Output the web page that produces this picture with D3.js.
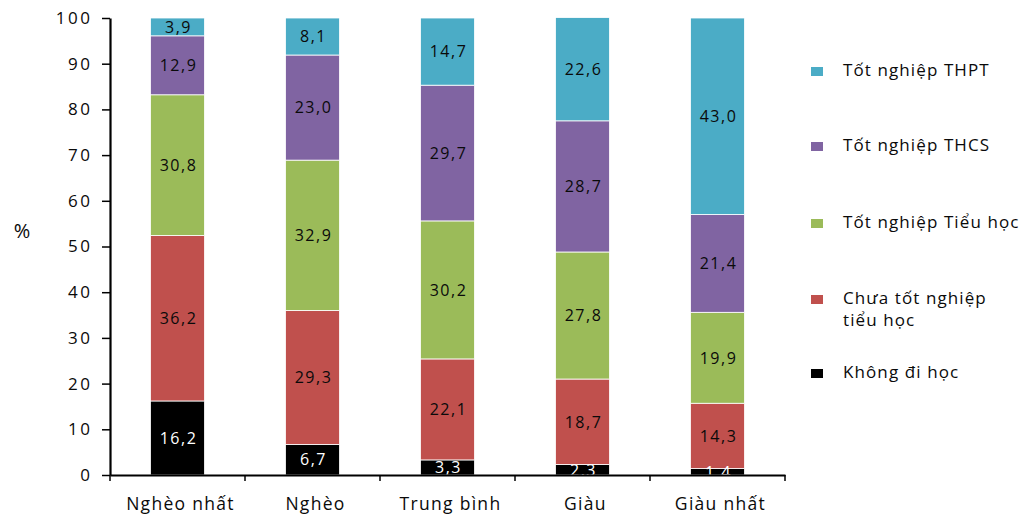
<!DOCTYPE html>
<html>
<head>
<meta charset="utf-8">
<script src="https://cdn.jsdelivr.net/npm/d3@7"></script>
<style>
  html, body { margin: 0; padding: 0; background: #fff; }
  svg text { font-family: "Open Sans", "Noto Sans", sans-serif; fill: #0a0a0a; }
</style>
</head>
<body>
<svg id="chart" width="1029" height="517"></svg>
<script>
// Quintile groups along the x axis
const categories = ["Nghèo nhất", "Nghèo", "Trung bình", "Giàu", "Giàu nhất"];

// Education levels, stacked bottom to top
const seriesNames = [
  "Không đi học",
  "Chưa tốt nghiệp tiểu học",
  "Tốt nghiệp Tiểu học",
  "Tốt nghiệp THCS",
  "Tốt nghiệp THPT"
];
const khongDiHoc    = [16.2, 6.7, 3.3, 2.3, 1.4];
const chuaTotNghiep = [36.2, 29.3, 22.1, 18.7, 14.3];
const tieuHoc       = [30.8, 32.9, 30.2, 27.8, 19.9];
const thcs          = [12.9, 23.0, 29.7, 28.7, 21.4];
const thpt          = [3.9, 8.1, 14.7, 22.6, 43.0];
const yTicks = [0, 10, 20, 30, 40, 50, 60, 70, 80, 90, 100];

const seriesValues = [khongDiHoc, chuaTotNghiep, tieuHoc, thcs, thpt];
const colors = ["#000000", "#C0504D", "#9BBB59", "#8064A2", "#4BACC6"];
const labelColors = ["#ffffff", "#0a0a0a", "#0a0a0a", "#0a0a0a", "#0a0a0a"];

const rows = categories.map((c, i) => {
  const r = { cat: c };
  seriesNames.forEach((s, j) => { r[s] = seriesValues[j][i]; });
  return r;
});
const stacked = d3.stack().keys(seriesNames)(rows);

const svg = d3.select("#chart");
const plotLeft = 110, plotRight = 785, plotTop = 18, plotBottom = 475;

const x = d3.scaleBand().domain(categories).range([plotLeft, plotRight])
  .paddingInner(0.6).paddingOuter(0.3);
const y = d3.scaleLinear().domain([0, 100]).range([plotBottom, plotTop]);

// Bars
const layers = svg.append("g").selectAll("g").data(stacked).join("g")
  .attr("fill", (d, i) => colors[i]);
layers.selectAll("rect").data(d => d).join("rect")
  .attr("x", d => x(d.data.cat))
  .attr("width", x.bandwidth())
  .attr("y", d => y(d[1]))
  .attr("height", d => y(d[0]) - y(d[1]))
  .attr("stroke", "#fff")
  .attr("stroke-width", 0.8);

// Value labels (comma decimal separator)
const fmt = v => v.toFixed(1).replace(".", ",");
stacked.forEach((layer, i) => {
  svg.append("g").selectAll("text").data(layer).join("text")
    .attr("x", d => x(d.data.cat) + x.bandwidth() / 2 + 1)
    .attr("y", d => y((d[0] + d[1]) / 2))
    .attr("dy", "0.36em")
    .attr("text-anchor", "middle")
    .style("font-size", "16px")
    .style("letter-spacing", "1.5px")
    .style("fill", labelColors[i])
    .text(d => fmt(d[1] - d[0]));
});

// Y axis
const yAxis = svg.append("g").attr("transform", `translate(${plotLeft},0)`)
  .call(d3.axisLeft(y).tickValues(yTicks).tickSize(8).tickPadding(9.5).tickSizeOuter(0));
yAxis.select(".domain").attr("stroke", "#000").attr("stroke-width", 2.2);
yAxis.selectAll(".tick line").attr("stroke", "#000").attr("stroke-width", 1.5);
yAxis.selectAll(".tick text").style("font-size", "17px").style("letter-spacing", "2.5px").style("fill", "#0a0a0a");

// X axis: labels centred under bars, ticks at group boundaries
const xAxis = svg.append("g").attr("transform", `translate(0,${plotBottom})`)
  .call(d3.axisBottom(x).tickSize(0).tickPadding(23).tickSizeOuter(0));
xAxis.select(".domain").attr("stroke", "#000").attr("stroke-width", 2.2);
xAxis.selectAll(".tick text")
  .attr("dx", 3)
  .style("font-size", "17.5px").style("letter-spacing", "1.3px").style("fill", "#0a0a0a");
const boundaries = [plotLeft].concat(categories.map(c => x(c) + x.bandwidth() + x.step() * x.paddingInner() / 2));
boundaries[boundaries.length - 1] = plotRight;
svg.append("g").selectAll("line").data(boundaries).join("line")
  .attr("x1", d => d).attr("x2", d => d)
  .attr("y1", plotBottom).attr("y2", plotBottom + 6)
  .attr("stroke", "#000").attr("stroke-width", 1.5);

// Y axis title
svg.append("text").attr("x", 22).attr("y", 231).attr("dy", "0.36em")
  .attr("text-anchor", "middle").style("font-size", "20px").text("%");

// Legend (top to bottom: THPT ... Không đi học)
const legendItems = [
  { i: 4, y: 70, lines: ["Tốt nghiệp THPT"] },
  { i: 3, y: 145, lines: ["Tốt nghiệp THCS"] },
  { i: 2, y: 222, lines: ["Tốt nghiệp Tiểu học"] },
  { i: 1, y: 298, lines: ["Chưa tốt nghiệp", "tiểu học"] },
  { i: 0, y: 372, lines: ["Không đi học"] }
];
const lg = svg.append("g");
legendItems.forEach(it => {
  lg.append("rect").attr("x", 811).attr("y", it.y - 3).attr("width", 12).attr("height", 9)
    .attr("fill", colors[it.i]);
  it.lines.forEach((ln, k) => {
    lg.append("text").attr("x", 843).attr("y", it.y + k * 22).attr("dy", "0.36em")
      .style("font-size", "17px").style("letter-spacing", "1.1px").text(ln);
  });
});
</script>
</body>
</html>
